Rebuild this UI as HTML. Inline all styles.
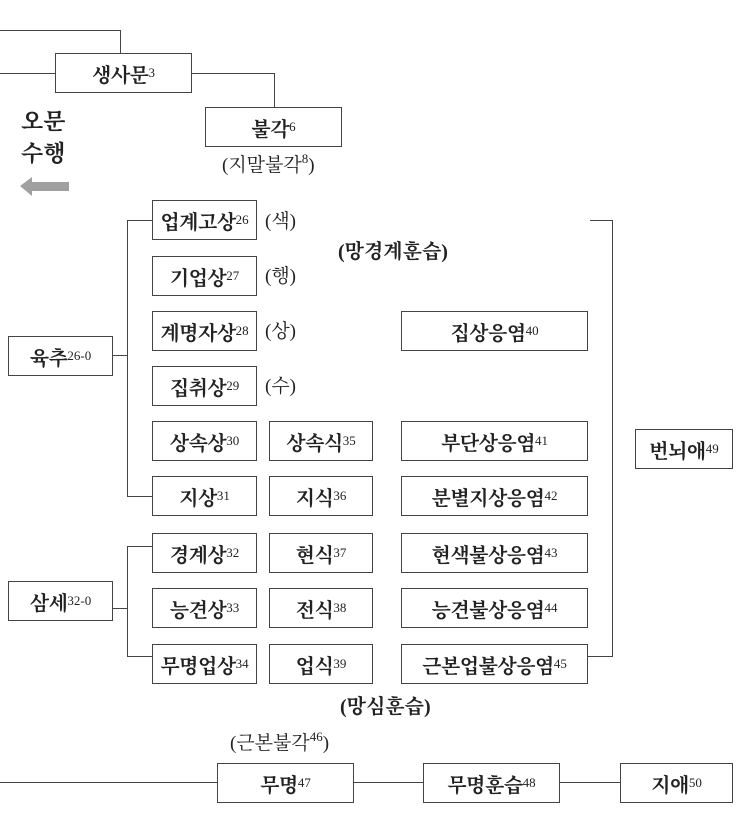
<!DOCTYPE html>
<html><head><meta charset="utf-8"><style>
body{margin:0;width:740px;height:840px;background:#fff;position:relative;overflow:hidden;font-family:"Liberation Serif","Noto Serif CJK SC","Noto Sans CJK KR",serif;color:#222}
.b{position:absolute;border:1.5px solid #444;box-sizing:border-box;display:flex;align-items:center;justify-content:center;font-weight:bold;font-size:20px;letter-spacing:-0.5px;background:#fff}
sup{font-size:13px;font-weight:normal;vertical-align:8px;line-height:0;letter-spacing:0}
.t{position:absolute;font-size:19px;white-space:nowrap}
.h{position:absolute;height:0;border-top:1.5px solid #444}
.v{position:absolute;width:0;border-left:1.5px solid #444}
</style></head><body>
<div class="h" style="left:0;top:30px;width:121px"></div>
<div class="v" style="left:120px;top:30px;height:23px"></div>
<div class="h" style="left:0;top:73px;width:55px"></div>
<div class="h" style="left:192px;top:73px;width:83px"></div>
<div class="v" style="left:274px;top:73px;height:34px"></div>
<div class="b" style="left:55px;top:53px;width:137px;height:40px">생사문<sup>3</sup></div>
<div class="b" style="left:205px;top:107px;width:137px;height:40px">불각<sup>6</sup></div>
<div class="t" style="left:222px;top:150px">(지말불각<sup>8</sup>)</div>
<div class="t" style="left:21px;top:106px;font-size:23px;font-weight:bold;line-height:32px">오문<br>수행</div>
<svg style="position:absolute;left:20px;top:176px" width="52" height="22"><polygon points="0,10 12,1 12,6 49,6 49,15 12,15 12,20" fill="#a0a0a0"/></svg>

<div class="b" style="left:8px;top:336px;width:105px;height:40px">육추<sup>26-0</sup></div>
<div class="h" style="left:113px;top:355px;width:15px"></div>
<div class="v" style="left:127px;top:220px;height:277px"></div>
<div class="h" style="left:127px;top:220px;width:25px"></div>
<div class="h" style="left:127px;top:496px;width:25px"></div>

<div class="b" style="left:152px;top:200px;width:105px;height:40px">업계고상<sup>26</sup></div>
<div class="b" style="left:152px;top:256px;width:105px;height:40px">기업상<sup>27</sup></div>
<div class="b" style="left:152px;top:311px;width:105px;height:40px">계명자상<sup>28</sup></div>
<div class="b" style="left:152px;top:366px;width:105px;height:40px">집취상<sup>29</sup></div>
<div class="b" style="left:152px;top:421px;width:105px;height:40px">상속상<sup>30</sup></div>
<div class="b" style="left:152px;top:476px;width:105px;height:40px">지상<sup>31</sup></div>
<div class="t" style="left:265px;top:206px">(색)</div>
<div class="t" style="left:265px;top:261px">(행)</div>
<div class="t" style="left:265px;top:316px">(상)</div>
<div class="t" style="left:265px;top:371px">(수)</div>

<div class="t" style="left:338px;top:235px;font-weight:bold;font-size:20px">(망경계훈습)</div>

<div class="b" style="left:269px;top:421px;width:104px;height:40px">상속식<sup>35</sup></div>
<div class="b" style="left:269px;top:476px;width:104px;height:40px">지식<sup>36</sup></div>
<div class="b" style="left:269px;top:533px;width:104px;height:40px">현식<sup>37</sup></div>
<div class="b" style="left:269px;top:588px;width:104px;height:40px">전식<sup>38</sup></div>
<div class="b" style="left:269px;top:644px;width:104px;height:40px">업식<sup>39</sup></div>

<div class="b" style="left:401px;top:311px;width:187px;height:40px">집상응염<sup>40</sup></div>
<div class="b" style="left:401px;top:421px;width:187px;height:40px">부단상응염<sup>41</sup></div>
<div class="b" style="left:401px;top:476px;width:187px;height:40px">분별지상응염<sup>42</sup></div>
<div class="b" style="left:401px;top:533px;width:187px;height:40px">현색불상응염<sup>43</sup></div>
<div class="b" style="left:401px;top:588px;width:187px;height:40px">능견불상응염<sup>44</sup></div>
<div class="b" style="left:401px;top:644px;width:187px;height:40px">근본업불상응염<sup>45</sup></div>

<div class="h" style="left:590px;top:220px;width:23px"></div>
<div class="v" style="left:612px;top:220px;height:437px"></div>
<div class="h" style="left:588px;top:656px;width:25px"></div>
<div class="b" style="left:635px;top:429px;width:98px;height:40px">번뇌애<sup>49</sup></div>

<div class="b" style="left:8px;top:581px;width:105px;height:40px">삼세<sup>32-0</sup></div>
<div class="h" style="left:113px;top:608px;width:15px"></div>
<div class="v" style="left:127px;top:546px;height:111px"></div>
<div class="h" style="left:127px;top:546px;width:25px"></div>
<div class="h" style="left:127px;top:656px;width:25px"></div>
<div class="b" style="left:152px;top:533px;width:105px;height:40px">경계상<sup>32</sup></div>
<div class="b" style="left:152px;top:588px;width:105px;height:40px">능견상<sup>33</sup></div>
<div class="b" style="left:152px;top:644px;width:105px;height:40px">무명업상<sup>34</sup></div>

<div class="t" style="left:340px;top:690px;font-weight:bold;font-size:20px">(망심훈습)</div>
<div class="t" style="left:230px;top:728px">(근본불각<sup>46</sup>)</div>

<div class="h" style="left:0;top:782px;width:620px"></div>
<div class="b" style="left:217px;top:763px;width:137px;height:40px">무명<sup>47</sup></div>
<div class="b" style="left:423px;top:763px;width:137px;height:40px">무명훈습<sup>48</sup></div>
<div class="b" style="left:620px;top:763px;width:113px;height:40px">지애<sup>50</sup></div>
</body></html>
